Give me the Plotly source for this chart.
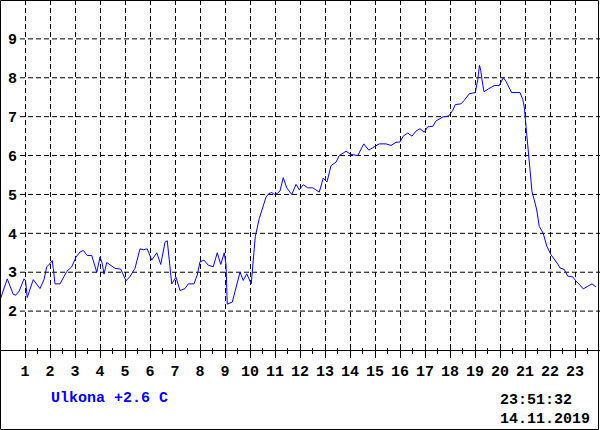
import plotly.graph_objects as go

# Hour of day (decimal) and outdoor temperature (C)
hours = [0.0, 0.29, 0.53, 0.63, 0.77, 0.96, 1.02, 1.09, 1.33, 1.6, 1.76, 1.87, 2.0, 2.09, 2.13,
         2.2, 2.4, 2.67, 2.87, 3.04, 3.2, 3.33, 3.49, 3.67, 3.87, 4.0, 4.08, 4.16, 4.27, 4.6,
         4.83, 5.04, 5.2, 5.4, 5.6, 5.73, 5.89, 6.07, 6.27, 6.43, 6.6, 6.69, 6.87, 7.04, 7.2,
         7.4, 7.53, 7.76, 7.89, 8.0, 8.16, 8.33, 8.53, 8.69, 8.83, 8.97, 9.04, 9.09, 9.29, 9.6,
         9.73, 9.87, 10.05, 10.11, 10.21, 10.37, 10.51, 10.64, 10.75, 10.87, 10.97, 11.08, 11.2,
         11.33, 11.47, 11.67, 11.84, 11.97, 12.13, 12.31, 12.51, 12.77, 12.93, 13.08, 13.24,
         13.44, 13.57, 13.84, 14.04, 14.31, 14.55, 14.75, 14.91, 15.07, 15.17, 15.44, 15.64,
         15.84, 16.0, 16.13, 16.31, 16.48, 16.64, 16.8, 16.97, 17.11, 17.31, 17.44, 17.71,
         17.95, 18.11, 18.21, 18.44, 18.57, 18.77, 19.01, 19.11, 19.18, 19.23, 19.28, 19.36,
         19.55, 19.77, 19.97, 20.13, 20.24, 20.46, 20.8, 20.91, 20.97, 21.03, 21.08, 21.11,
         21.2, 21.28, 21.37, 21.47, 21.57, 21.73, 21.87, 22.04, 22.31, 22.4, 22.57, 22.71,
         22.91, 23.04, 23.2, 23.33, 23.51, 23.68, 23.84]
temps = [2.28, 2.83, 2.43, 2.41, 2.52, 2.83, 2.78, 2.35, 2.81, 2.58, 2.81, 3.14, 3.22, 3.30, 3.10,
         2.70, 2.70, 3.02, 3.14, 3.39, 3.52, 3.56, 3.43, 3.43, 3.00, 3.39, 3.25, 2.95, 3.25, 3.10,
         3.08, 2.78, 2.89, 3.10, 3.60, 3.58, 3.60, 3.31, 3.50, 3.20, 3.77, 3.81, 2.70, 2.87, 2.53,
         2.58, 2.70, 2.70, 2.93, 3.27, 3.31, 3.18, 3.14, 3.50, 3.20, 3.50, 3.20, 2.18, 2.23, 3.00,
         2.79, 2.96, 2.70, 3.13, 3.91, 4.38, 4.64, 4.93, 5.02, 5.05, 5.00, 5.02, 5.09,
         5.43, 5.17, 5.00, 5.26, 5.12, 5.25, 5.17, 5.17, 5.06, 5.42, 5.32, 5.74,
         5.83, 6.00, 6.11, 6.03, 6.00, 6.30, 6.14, 6.20, 6.26, 6.30, 6.30, 6.26,
         6.34, 6.35, 6.50, 6.58, 6.50, 6.63, 6.69, 6.60, 6.74, 6.75, 6.89, 6.99,
         7.02, 7.16, 7.31, 7.33, 7.42, 7.59, 7.62, 7.95, 8.32, 8.19, 7.95, 7.64,
         7.72, 7.80, 7.80, 8.00, 7.91, 7.62, 7.62, 7.44, 7.25, 6.82, 6.45, 6.10,
         5.63, 5.07, 4.86, 4.60, 4.18, 4.00, 3.67, 3.45, 3.21, 3.11, 3.07, 2.90,
         2.88, 2.77, 2.67, 2.57, 2.64, 2.70, 2.62]

x_ticks = list(range(1, 24))
x_minor = [h + 0.5 for h in range(0, 24)]
y_ticks = list(range(2, 10))
sensor_label = "Ulkona +2.6 C"
time_label = "23:51:32"
date_label = "14.11.2019"

FONT = "Liberation Mono"
W, H, B = 600, 430, 80
PH = H - B

fig = go.Figure()
fig.add_trace(go.Scatter(x=hours, y=temps, mode="lines",
                         line=dict(color="#0000ff", width=1), hoverinfo="skip"))
# empty trace to register the secondary x-axis (upward tick marks)
fig.add_trace(go.Scatter(x=[], y=[], xaxis="x2", yaxis="y", mode="lines", hoverinfo="skip"))

tickfont = dict(family=FONT, size=15, color="black", weight="bold")

shapes = []
for v in y_ticks:
    shapes.append(dict(type="line", xref="x", yref="y", x0=0.8, x1=24, y0=v, y1=v,
                       layer="below", line=dict(color="black", width=1, dash="5px,3px")))
# outer frame
shapes.append(dict(type="rect", xref="paper", yref="paper",
                   x0=0.5 / W, x1=598.5 / W, y0=(PH - 429.5) / PH, y1=(PH - 0.5) / PH,
                   line=dict(color="black", width=1), fillcolor="rgba(0,0,0,0)"))

def py(ypx):
    return (PH - ypx) / PH

annotations = [
    dict(text=sensor_label, x=49 / W, y=py(398), xref="paper", yref="paper",
         xanchor="left", yanchor="middle", showarrow=False,
         font=dict(family=FONT, size=15, color="#0000ff", weight="bold")),
    dict(text=time_label, x=499 / W, y=py(410), xref="paper", yref="paper",
         xanchor="left", yanchor="bottom", showarrow=False, borderpad=0,
         font=dict(family=FONT, size=15, color="black", weight="bold")),
    dict(text=date_label, x=499 / W, y=py(410), xref="paper", yref="paper",
         xanchor="left", yanchor="top", showarrow=False, borderpad=0,
         font=dict(family=FONT, size=15, color="black", weight="bold")),
]

fig.update_layout(
    width=W, height=H,
    margin=dict(l=0, r=0, t=0, b=B, pad=0),
    paper_bgcolor="white", plot_bgcolor="white",
    showlegend=False,
    xaxis=dict(range=[0, 24], tickmode="array", tickvals=x_ticks,
               ticktext=[str(t) for t in x_ticks],
               ticks="outside", ticklen=7, tickcolor="black", tickwidth=1,
               showline=True, linecolor="black", linewidth=1,
               showgrid=True, gridcolor="black", gridwidth=1, griddash="5px,3px",
               zeroline=False, tickfont=tickfont, fixedrange=True, automargin=False,
               minor=dict(tickmode="array", tickvals=x_minor, ticks="outside",
                          ticklen=3, tickcolor="black", showgrid=False)),
    xaxis2=dict(range=[0, 24], overlaying="x", anchor="y", side="bottom",
                tickmode="array", tickvals=x_ticks, ticks="inside", ticklen=5,
                tickcolor="black", showticklabels=False, showgrid=False,
                showline=False, zeroline=False, fixedrange=True,
                minor=dict(tickmode="array", tickvals=x_minor, ticks="inside",
                           ticklen=2, tickcolor="black", showgrid=False)),
    yaxis=dict(range=[1, 10], tickmode="array", tickvals=y_ticks,
               ticktext=[str(t) for t in y_ticks],
               ticklabelposition="inside", ticklabelstandoff=5, ticks="",
               showgrid=False, showline=False, zeroline=False, automargin=False,
               tickfont=tickfont, fixedrange=True),
    shapes=shapes,
    annotations=annotations,
)

fig.write_html("out.html", config={"displayModeBar": False},
               post_script="document.body.style.margin='0';document.body.style.padding='0';")
